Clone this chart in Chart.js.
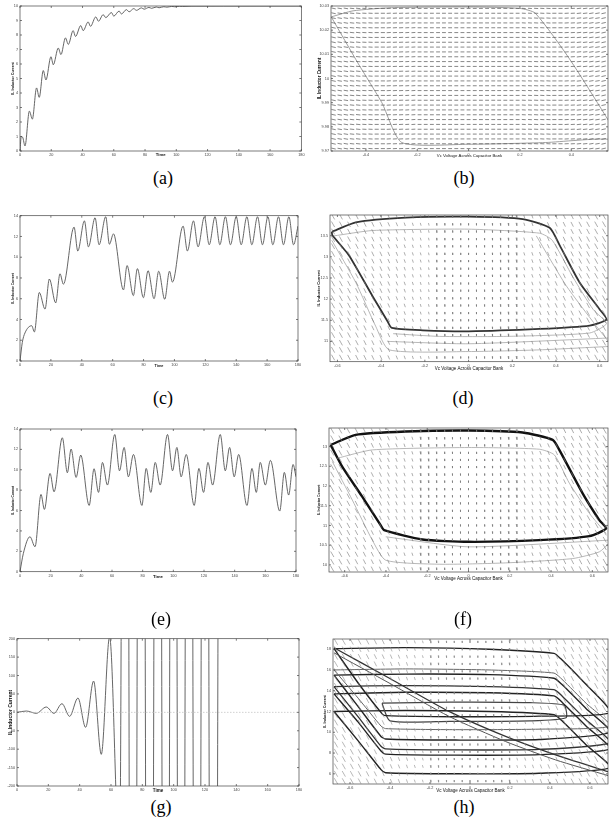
<!DOCTYPE html>
<html>
<head>
<meta charset="utf-8">
<script src="https://cdn.jsdelivr.net/npm/chart.js@4.4.0/dist/chart.umd.min.js"></script>
<style>
  body { margin: 0; background: #fff; width: 613px; height: 819px; position: relative; overflow: hidden; }
  canvas { position: absolute; }
  .cap { position: absolute; font-family: "Liberation Serif", serif; font-size: 18px; line-height: 20px; transform: translateX(-50%); }
</style>
</head>
<body>
<canvas id="ca"></canvas><canvas id="cb"></canvas>
<canvas id="cc"></canvas><canvas id="cd"></canvas>
<canvas id="ce"></canvas><canvas id="cf"></canvas>
<canvas id="cg"></canvas><canvas id="ch"></canvas>
<div class="cap" style="left:163px;top:168px">(a)</div>
<div class="cap" style="left:464px;top:168px">(b)</div>
<div class="cap" style="left:163px;top:388px">(c)</div>
<div class="cap" style="left:463px;top:388px">(d)</div>
<div class="cap" style="left:161px;top:609px">(e)</div>
<div class="cap" style="left:463px;top:609px">(f)</div>
<div class="cap" style="left:161px;top:797px">(g)</div>
<div class="cap" style="left:464px;top:797px">(h)</div>
<script>
// ---- (a) step response, current settles at 10
const timeA = [0,0.8,1.7,3.2,6.0,7.9,10.6,12.3,14.9,16.6,19.8,21.3,24.5,26.2,29.1,30.9,34.0,35.5,38.9,40.4,43.6,45.1,48.5,50.2,53.2,54.9,58.5,60.0,63.4,64.9,68.1,69.8,72.8,74.5,77.7,79.4,82.5,84.2,87.2,89.0,92,94,97,99,102,104,110,130,180];
const currentA = [0,1.0,0.95,0.35,2.75,2.2,4.35,3.7,5.55,4.9,6.5,5.95,7.1,6.65,7.8,7.35,8.3,7.9,8.65,8.3,8.9,8.6,9.25,8.95,9.4,9.2,9.55,9.3,9.65,9.45,9.75,9.6,9.82,9.7,9.87,9.78,9.9,9.84,9.93,9.88,9.95,9.92,9.97,9.95,9.98,9.97,9.99,9.995,9.998];

// ---- (c)
const timeC = [0,1.5,3.2,7.6,9.3,12.5,16.2,19.0,23.1,25.9,28.1,35.0,37.4,41.7,44.3,48.6,51.2,55.5,57.9,60.5,67.0,69.3,73.4,76.0,79.9,82.9,86.8,89.8,93.7,96.8,98.7,105.6,108.4,112.3,115.3,119.4,122.5,126.3,129.4,133.0,136.3,140.0,143.2,146.9,150.1,153.8,157.0,160.5,163.7,167.4,170.6,174.1,177.1,180];
const currentC = [0,1.8,2.7,3.4,2.8,6.6,5.0,7.9,5.6,8.4,7.4,12.9,10.6,13.5,11.0,13.8,11.2,13.9,11.25,12.25,6.85,9.2,6.3,8.9,6.1,8.7,6.0,8.65,5.95,8.65,7.6,13.0,10.6,13.5,11.0,13.9,11.2,13.9,11.2,13.9,11.2,13.9,11.2,13.9,11.2,13.9,11.2,13.9,11.2,13.9,11.2,13.9,11.2,13.0];

// ---- (e)
const timeE = [0,2.2,6.5,9.8,13.7,15.9,19.6,22.2,27.6,30.9,33.3,36.6,39.6,45.1,48.3,51.2,53.8,57.0,61.8,64.9,67.9,70.7,74.0,79.5,82.3,85.3,88.2,91.4,96.2,99.5,102.3,105.1,108.4,113.6,116.7,119.7,122.6,125.6,130.6,133.9,136.7,139.7,142.6,148.0,151.3,154.1,156.7,160.0,163.3,169.4,172.4,175.2,178.1,180];
const currentE = [0,1.8,3.43,2.45,7.58,6.11,9.64,7.84,13.14,9.71,12.03,9.25,11.44,6.5,10.1,7.78,10.72,8.5,13.46,9.9,12.19,9.31,11.5,6.5,10.13,7.78,10.72,8.5,13.46,9.9,12.19,9.31,11.5,6.5,10.13,7.78,10.72,8.5,13.46,9.9,12.19,9.31,11.5,6.5,10.13,7.78,10.72,8.5,10.92,5.95,9.74,7.52,10.52,9.31];

// ---- (g) unstable case
const timeG = [0,6.0,12.3,18.7,23.6,28.7,33.6,38.9,43.8,48.9,53.8,59.1,65.5,69.1,73.9,79.3,84.6,89.9,95.0,99.8,104.7,109.8,114.9,120.0,125.1,130.2];
const currentG = [0,3.6,-2.7,14.5,-2.7,23.5,-10.9,38.9,-40.7,85,-114,205,-400,3000,-3000,3000,-3000,3000,-3000,3000,-3000,3000,-3000,3000,-3000,3000];
const zeroT = [0,180];
const zeroI = [0,0];

// ---- (b) phase plane
const cycleB_vc = [-0.535,-0.45,-0.3,0,0.2,0.26,0.4,0.62,0.55,0.3,0,-0.26,-0.338,-0.429,-0.535];
const cycleB_il = [10.0255,10.028,10.0293,10.0296,10.029,10.027,10.007,9.969,9.9748,9.9735,9.9728,9.9735,9.990,10.006,10.0255];
const fieldB_vc = [-0.526,-0.502,-0.478,-0.454,-0.430,-0.406,-0.382,-0.358,-0.334,-0.311,-0.287,-0.263,-0.239,-0.215,-0.191,-0.167,-0.143,-0.119,-0.096,-0.072,-0.048,-0.024,0,0.024,0.048,0.072,0.096,0.119,0.143,0.167,0.191,0.215,0.239,0.263,0.287,0.311,0.334,0.358,0.382,0.406,0.430,0.454,0.478,0.502,0.526];
const fieldB_il = [9.971,9.973,9.975,9.977,9.979,9.981,9.983,9.985,9.987,9.989,9.991,9.993,9.995,9.997,9.999,10.001,10.003,10.005,10.007,10.009,10.011,10.013,10.015,10.017,10.019,10.021,10.023,10.025,10.027,10.029];
const fieldB_du = [0.017,0.017,0.017,0.017,0.017,0.016,0.016,0.016,0.016,0.016,0.016,0.016,0.015,0.015,0.015,0.015,0.015,0.015,0.015,0.015,0.015,0.015,0.015,0.015,0.015,0.015,0.015,0.015,0.015,0.015,0.015,0.015,0.015,0.016,0.016,0.016,0.016,0.016,0.016,0.016,0.017,0.017,0.017,0.017,0.017];
const fieldB_di = [-0.0004,-0.0003,-0.0003,-0.0002,-0.0002,-0.0001,-0.0001,0,0,0.0001,0.0001,0.0001,0.0001,0.0001,0,0,0,0,0,0,0,0,0,0,0,0,0,0,0,0,0,-0.0001,-0.0001,-0.0001,-0.0001,-0.0001,0,0,0.0001,0.0001,0.0002,0.0002,0.0003,0.0003,0.0004];

// ---- (d)
const cycleD_vc = [-0.626,-0.516,-0.287,0,0.248,0.371,0.417,0.508,0.6,0.631,0.554,0.325,0,-0.21,-0.351,-0.371,-0.44,-0.547,-0.623,-0.626];
const cycleD_il = [13.59,13.815,13.926,13.95,13.894,13.687,13.272,12.395,11.757,11.518,11.375,11.295,11.239,11.263,11.319,11.478,12.076,13.033,13.512,13.59];
const transD1_vc = [-0.616,-0.44,0,0.325,0.383,0.478,0.57,0.631,0.554,0.172,-0.134,-0.345];
const transD1_il = [13.496,13.623,13.655,13.56,13.392,12.515,11.757,11.422,11.199,11.119,11.119,11.183];
const transD2_vc = [-0.626,-0.516,-0.425,-0.363,0,0.325,0.64];
const transD2_il = [13.392,12.395,11.359,10.8,10.76,10.8,10.88];
const transD3_vc = [-0.371,0,0.64];
const transD3_il = [11.0,10.944,11.08];
const transD4_vc = [0.31,0.447,0.585,0.64];
const transD4_il = [13.496,12.316,11.359,11.0];
const fieldD_vc = [-0.62,-0.584,-0.547,-0.511,-0.474,-0.438,-0.401,-0.365,-0.328,-0.292,-0.255,-0.219,-0.182,-0.146,-0.109,-0.073,-0.036,0,0.036,0.073,0.109,0.146,0.182,0.219,0.255,0.292,0.328,0.365,0.401,0.438,0.474,0.511,0.547,0.584,0.62];
const fieldD_il = [10.62,10.8,10.97,11.15,11.32,11.5,11.67,11.85,12.02,12.2,12.37,12.55,12.72,12.9,13.07,13.25,13.42,13.6,13.77,13.95];
const fieldD_du = [0.0147,0.0138,0.0128,0.0119,0.011,0.0101,0.0092,0.0083,0.0069,0.0055,0.0046,0.0037,0.0028,0.0018,0.0014,0.0009,0.0005,0,0.0005,0.0009,0.0014,0.0018,0.0028,0.0037,0.0046,0.0055,0.0069,0.0083,0.0092,0.0101,0.011,0.0119,0.0128,0.0138,0.0147];
const fieldD_di = [-0.132,-0.127,-0.122,-0.117,-0.112,-0.108,-0.103,-0.096,-0.089,-0.081,-0.074,-0.067,-0.062,-0.057,-0.053,-0.05,-0.048,-0.048,-0.048,-0.05,-0.053,-0.057,-0.062,-0.067,-0.074,-0.081,-0.089,-0.096,-0.103,-0.108,-0.112,-0.117,-0.122,-0.127,-0.132];

// ---- (f)
const cycleF_vc = [-0.668,-0.547,-0.304,0,0.262,0.408,0.44,0.553,0.634,0.667,0.586,0.343,0,-0.223,-0.409,-0.426,-0.515,-0.612,-0.668];
const cycleF_il = [13.042,13.297,13.381,13.407,13.356,13.169,12.915,11.814,11.136,10.924,10.729,10.627,10.585,10.644,10.881,11.008,11.729,12.492,13.042];
const transF1_vc = [-0.66,-0.563,-0.466,-0.401,-0.142,0.181,0.505,0.634,0.68];
const transF1_il = [12.62,11.644,10.627,10.119,10.017,10.051,10.161,10.331,10.542];
const transF2_vc = [-0.636,-0.466,0,0.343,0.416,0.489,0.586,0.667];
const transF2_il = [12.703,12.915,12.975,12.932,12.788,12.068,11.305,10.797];
const transF3_vc = [-0.401,0,0.68];
const transF3_il = [10.712,10.458,10.627];
const fieldF_vc = [-0.66,-0.621,-0.582,-0.543,-0.504,-0.466,-0.427,-0.388,-0.349,-0.31,-0.272,-0.233,-0.194,-0.155,-0.116,-0.078,-0.039,0,0.039,0.078,0.116,0.155,0.194,0.233,0.272,0.31,0.349,0.388,0.427,0.466,0.504,0.543,0.582,0.621,0.66];
const fieldF_il = [9.9,10.08,10.27,10.45,10.64,10.82,11.0,11.19,11.37,11.56,11.74,11.92,12.11,12.29,12.48,12.66,12.84,13.03,13.21,13.4];
const fieldF_du = [0.0155,0.0146,0.0136,0.0126,0.0117,0.0107,0.0097,0.0087,0.0073,0.0058,0.0049,0.0039,0.0029,0.0019,0.0015,0.001,0.0005,0,0.0005,0.001,0.0015,0.0019,0.0029,0.0039,0.0049,0.0058,0.0073,0.0087,0.0097,0.0107,0.0117,0.0126,0.0136,0.0146,0.0155];
const fieldF_di = [-0.14,-0.135,-0.129,-0.124,-0.119,-0.114,-0.109,-0.102,-0.094,-0.086,-0.079,-0.071,-0.066,-0.061,-0.056,-0.053,-0.051,-0.051,-0.051,-0.053,-0.056,-0.061,-0.066,-0.071,-0.079,-0.086,-0.094,-0.102,-0.109,-0.114,-0.119,-0.124,-0.129,-0.135,-0.14];

// ---- (h) chaotic case
const loopH1_vc = [-0.68,-0.322,0.095,0.42,0.453,0.56,0.70,0.345,-0.072,-0.422,-0.438,-0.55,-0.68];
const loopH1_il = [18.05,18.15,18.0,17.6,17.1,15.0,11.9,11.55,11.5,11.6,11.75,14.5,18.05];
const loopH_vc = [-0.68,-0.322,0.095,0.42,0.46,0.58,0.70,0.345,-0.072,-0.422,-0.445,-0.56,-0.68];
const loopH2_il = [15.5,15.6,15.55,15.2,14.6,12.3,10.0,9.3,9.25,9.35,9.6,12.5,15.5];
const loopH3_il = [14.4,14.5,14.4,14.1,13.5,11.2,9.0,8.35,8.3,8.4,8.65,11.5,14.4];
const loopH4_il = [13.7,13.85,13.8,13.5,12.9,10.6,8.4,7.85,7.8,7.9,8.2,11.0,13.7];
const loopH5_il = [12.0,12.1,12.0,11.7,11.1,8.8,6.6,6.05,6.0,6.1,6.4,9.2,12.0];
const loopH6_il = [16.0,16.1,16.0,15.7,15.1,12.8,10.6,10.3,10.25,10.35,10.6,13.3,16.0];
const loopH7_vc = [-0.44,-0.1,0.3,0.47,0.48,0.3,-0.1,-0.4,-0.44];
const loopH7_il = [12.8,12.9,12.85,12.6,11.4,11.1,11.05,11.1,12.8];
const diagH_vc = [-0.68,-0.405,-0.105,0.178,0.428,0.69];
const diagH1_il = [18.13,15.23,12.01,9.6,7.82,6.21];
const diagH2_il = [17.65,14.75,11.53,9.11,7.34,5.83];
const fieldH_vc = [-0.67,-0.631,-0.591,-0.552,-0.512,-0.473,-0.434,-0.394,-0.355,-0.315,-0.276,-0.236,-0.197,-0.158,-0.118,-0.079,-0.039,0,0.039,0.079,0.118,0.158,0.197,0.236,0.276,0.315,0.355,0.394,0.434,0.473,0.512,0.552,0.591,0.631,0.67];
const fieldH_il = [5.3,6.0,6.71,7.42,8.12,8.82,9.53,10.23,10.94,11.64,12.35,13.05,13.76,14.46,15.17,15.87,16.58,17.28,17.99,18.7];
const fieldH_du = [0.017,0.016,0.015,0.014,0.013,0.012,0.0105,0.009,0.0075,0.006,0.005,0.004,0.003,0.002,0.0015,0.001,0.0005,0,0.0005,0.001,0.0015,0.002,0.003,0.004,0.005,0.006,0.0075,0.009,0.0105,0.012,0.013,0.014,0.015,0.016,0.017];
const fieldH_di = [-0.56,-0.54,-0.52,-0.5,-0.48,-0.46,-0.43,-0.41,-0.37,-0.33,-0.29,-0.26,-0.24,-0.22,-0.2,-0.19,-0.19,-0.19,-0.19,-0.19,-0.2,-0.22,-0.24,-0.26,-0.29,-0.33,-0.37,-0.41,-0.43,-0.46,-0.48,-0.5,-0.52,-0.54,-0.56];

const FONT = 'Liberation Sans';
const IL = 'IL Inductor Current';
const VC = 'Vc Voltage Across Capacitor Bank';

function pts(xs, ys) { return xs.map((x, i) => ({x: x, y: ys[i]})); }

// short strokes of the direction field, one per grid node, broken by null points
function field(cols, rows, du, di) {
  const out = [];
  rows.forEach(r => {
    cols.forEach((c, i) => {
      out.push({x: c - du[i] / 2, y: r - di[i] / 2});
      out.push({x: c + du[i] / 2, y: r + di[i] / 2});
      out.push({x: c, y: null});
    });
  });
  return out;
}

function line(data, color, width, extra) {
  return Object.assign({data: data, borderColor: color, borderWidth: width, pointRadius: 0,
    showLine: true, fill: false, spanGaps: false}, extra || {});
}

function fmt(v) { return String(+Number(v).toFixed(3)); }

// box round the plot with inward tick marks, matlab style
const framePlugin = {
  id: 'frame',
  afterDraw(chart) {
    const {ctx, chartArea: a, scales} = chart;
    ctx.save();
    ctx.strokeStyle = '#444';
    ctx.lineWidth = 0.7;
    ctx.strokeRect(a.left, a.top, a.right - a.left, a.bottom - a.top);
    ctx.beginPath();
    scales.x.ticks.forEach(t => {
      const p = scales.x.getPixelForValue(t.value);
      ctx.moveTo(p, a.bottom); ctx.lineTo(p, a.bottom - 2);
      ctx.moveTo(p, a.top); ctx.lineTo(p, a.top + 2);
    });
    scales.y.ticks.forEach(t => {
      const p = scales.y.getPixelForValue(t.value);
      ctx.moveTo(a.left, p); ctx.lineTo(a.left + 2, p);
      ctx.moveTo(a.right, p); ctx.lineTo(a.right - 2, p);
    });
    ctx.stroke();
    ctx.restore();
  }
};

function makeChart(id, cell, box, ax, datasets) {
  const cv = document.getElementById(id);
  cv.width = cell.w; cv.height = cell.h;
  cv.style.left = cell.x + 'px'; cv.style.top = cell.y + 'px';
  const wy = box.l - cell.x;
  const hx = cell.y + cell.h - box.b;
  const tickFont = {family: FONT, size: 3.8};
  return new Chart(cv, {
    type: 'scatter',
    data: {datasets: datasets},
    options: {
      responsive: false,
      animation: false,
      events: [],
      layout: {padding: {left: 0, top: box.t - cell.y, right: cell.x + cell.w - box.r, bottom: 0}},
      plugins: {legend: {display: false}, tooltip: {enabled: false}},
      scales: {
        x: {
          type: 'linear', min: ax.xMin, max: ax.xMax,
          ticks: {stepSize: ax.xStep, includeBounds: false, autoSkip: false, maxRotation: 0,
            font: tickFont, color: '#444', padding: 1.5, callback: fmt},
          grid: {display: false, drawTicks: false},
          border: {display: false},
          title: {display: true, text: ax.xTitle, color: '#111',
            font: {family: FONT, size: ax.xSize, weight: ax.xBold ? 'bold' : 'normal'},
            padding: {top: 0, bottom: hx - ax.xOff - ax.xSize * 0.6}},
          afterFit: s => { s.height = hx; }
        },
        y: {
          type: 'linear', min: ax.yMin, max: ax.yMax,
          ticks: {stepSize: ax.yStep, includeBounds: false, autoSkip: false,
            font: tickFont, color: '#444', padding: 2, callback: fmt},
          grid: {display: false, drawTicks: false},
          border: {display: false},
          title: {display: true, text: IL, color: '#111',
            font: {family: FONT, size: ax.ySize, weight: 'bold'},
            padding: {top: wy - ax.yOff - ax.ySize * 0.6, bottom: 0}},
          afterFit: s => { s.width = wy; }
        }
      }
    },
    plugins: [framePlugin]
  });
}

const smooth = {cubicInterpolationMode: 'monotone'};
const curveCol = '#555';

makeChart('ca', {x: 0, y: 0, w: 306, h: 168}, {l: 20, t: 6, r: 302, b: 151},
  {xMin: 0, xMax: 180, xStep: 20, yMin: 0, yMax: 10, yStep: 1,
   xTitle: 'Time', xSize: 4.3, xBold: true, xOff: 4, ySize: 3.6, yOff: 6.7},
  [line(pts(timeA, currentA), curveCol, 0.9, smooth)]);

makeChart('cb', {x: 306, y: 0, w: 307, h: 168}, {l: 331, t: 6, r: 608, b: 151},
  {xMin: -0.536, xMax: 0.543, xStep: 0.2, yMin: 9.97, yMax: 10.03, yStep: 0.01,
   xTitle: VC, xSize: 4.3, xBold: false, xOff: 4.7, ySize: 4.6, yOff: 11.7},
  [line(field(fieldB_vc, fieldB_il, fieldB_du, fieldB_di), '#555', 0.7),
   line(pts(cycleB_vc, cycleB_il), '#888', 0.8, {tension: 0.2})]);

makeChart('cc', {x: 0, y: 195, w: 306, h: 180}, {l: 20, t: 215.7, r: 298, b: 361},
  {xMin: 0, xMax: 180, xStep: 20, yMin: 0, yMax: 14, yStep: 2,
   xTitle: 'Time', xSize: 3.8, xBold: true, xOff: 4.7, ySize: 3.4, yOff: 6.7},
  [line(pts(timeC, currentC), curveCol, 0.9, smooth)]);

makeChart('cd', {x: 306, y: 195, w: 307, h: 180}, {l: 330, t: 215, r: 608, b: 361.7},
  {xMin: -0.634, xMax: 0.638, xStep: 0.2, yMin: 10.52, yMax: 13.99, yStep: 0.5,
   xTitle: VC, xSize: 4.5, xBold: false, xOff: 6.6, ySize: 4, yOff: 11.3},
  [line(field(fieldD_vc, fieldD_il, fieldD_du, fieldD_di), '#777', 0.6),
   line(pts(transD1_vc, transD1_il), '#999', 0.7, {tension: 0.2}),
   line(pts(transD2_vc, transD2_il), '#999', 0.7, {tension: 0.2}),
   line(pts(transD3_vc, transD3_il), '#999', 0.7, {tension: 0.2}),
   line(pts(transD4_vc, transD4_il), '#999', 0.7, {tension: 0.2}),
   line(pts(cycleD_vc, cycleD_il), '#333', 1.8, {tension: 0.2})]);

makeChart('ce', {x: 0, y: 410, w: 306, h: 175}, {l: 20, t: 429, r: 296, b: 571.7},
  {xMin: 0, xMax: 180, xStep: 20, yMin: 0, yMax: 14, yStep: 2,
   xTitle: 'Time', xSize: 4.3, xBold: true, xOff: 5.6, ySize: 3.2, yOff: 7.3},
  [line(pts(timeE, currentE), curveCol, 0.9, smooth)]);

makeChart('cf', {x: 306, y: 410, w: 307, h: 175}, {l: 329, t: 428, r: 608, b: 572},
  {xMin: -0.676, xMax: 0.676, xStep: 0.2, yMin: 9.82, yMax: 13.47, yStep: 0.5,
   xTitle: VC, xSize: 4.5, xBold: false, xOff: 6.3, ySize: 3.4, yOff: 10.3},
  [line(field(fieldF_vc, fieldF_il, fieldF_du, fieldF_di), '#777', 0.6),
   line(pts(transF1_vc, transF1_il), '#999', 0.7, {tension: 0.2}),
   line(pts(transF2_vc, transF2_il), '#999', 0.7, {tension: 0.2}),
   line(pts(transF3_vc, transF3_il), '#999', 0.7, {tension: 0.2}),
   line(pts(cycleF_vc, cycleF_il), '#111', 2.4, {tension: 0.2})]);

makeChart('cg', {x: 0, y: 625, w: 306, h: 172}, {l: 17, t: 638.7, r: 299, b: 786},
  {xMin: 0, xMax: 180, xStep: 20, yMin: -200, yMax: 200, yStep: 50,
   xTitle: 'Time', xSize: 4.5, xBold: true, xOff: 4.3, ySize: 5, yOff: 6},
  [line(pts(zeroT, zeroI), '#bbb', 0.7, {borderDash: [1.5, 1.5]}),
   line(pts(timeG, currentG), curveCol, 0.9, smooth)]);

makeChart('ch', {x: 306, y: 625, w: 307, h: 172}, {l: 333, t: 639, r: 608, b: 784},
  {xMin: -0.685, xMax: 0.69, xStep: 0.2, yMin: 5.02, yMax: 18.98, yStep: 2,
   xTitle: VC, xSize: 4.5, xBold: false, xOff: 7, ySize: 3.6, yOff: 8},
  [line(field(fieldH_vc, fieldH_il, fieldH_du, fieldH_di), '#888', 0.6),
   line(pts(diagH_vc, diagH1_il), '#333', 1.2, {tension: 0.2}),
   line(pts(diagH_vc, diagH2_il), '#555', 1.0, {tension: 0.2}),
   line(pts(loopH1_vc, loopH1_il), '#222', 1.4, {tension: 0.2}),
   line(pts(loopH_vc, loopH6_il), '#666', 1.0, {tension: 0.2}),
   line(pts(loopH_vc, loopH2_il), '#222', 1.4, {tension: 0.2}),
   line(pts(loopH_vc, loopH3_il), '#333', 1.3, {tension: 0.2}),
   line(pts(loopH_vc, loopH4_il), '#222', 1.4, {tension: 0.2}),
   line(pts(loopH7_vc, loopH7_il), '#444', 1.2, {tension: 0.2}),
   line(pts(loopH_vc, loopH5_il), '#222', 1.4, {tension: 0.2})]);
</script>
</body>
</html>
